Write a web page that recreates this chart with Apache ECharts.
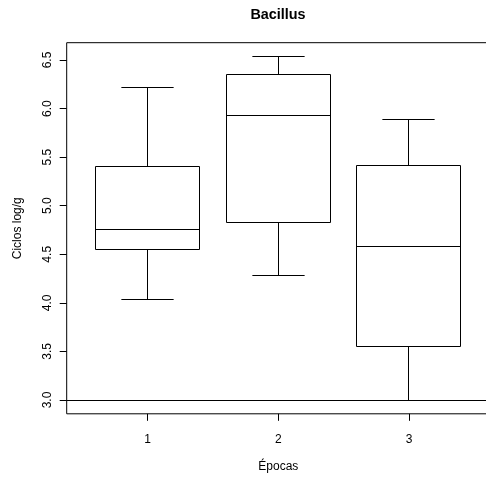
<!DOCTYPE html>
<html>
<head>
<meta charset="utf-8">
<title>Bacillus</title>
<script src="https://cdn.jsdelivr.net/npm/echarts@6/dist/echarts.min.js"></script>
<style>
  html, body { margin: 0; padding: 0; background: #fff; }
  #chart { width: 486px; height: 481px; }
</style>
</head>
<body>
<div id="chart"></div>
<script>
// Época of sampling and the five-number summary of each box (log cycles per gram)
const epocas        = [1, 2, 3];
const whiskerLow    = [4.03, 4.28, 3.00];
const quartileLow   = [4.55, 4.83, 3.55];
const medians       = [4.75, 5.93, 4.58];
const quartileHigh  = [5.40, 6.35, 5.41];
const whiskerHigh   = [6.22, 6.54, 5.89];

// Horizontal reference level
const referenceLevel = 3.0;

// Tick positions
const xTicks = [1, 2, 3];
const yTicks = [3.0, 3.5, 4.0, 4.5, 5.0, 5.5, 6.0, 6.5];

const FONT = '"Liberation Sans", Arial, Helvetica, sans-serif';
const INK = '#000';

const boxData = epocas.map((e, i) => [
  e, whiskerLow[i], quartileLow[i], medians[i], quartileHigh[i], whiskerHigh[i]
]);

// Pixel-snap a coordinate for crisp 1px strokes
const snap = v => Math.round(v - 0.5) + 0.5;

function renderBox(params, api) {
  const x = api.value(0);
  const lo = api.coord([x, api.value(1)]);
  const q1 = api.coord([x, api.value(2)]);
  const md = api.coord([x, api.value(3)]);
  const q3 = api.coord([x, api.value(4)]);
  const hi = api.coord([x, api.value(5)]);
  const boxHalf = api.size([0.8, 0])[0] / 2;
  const capHalf = api.size([0.4, 0])[0] / 2;
  const cx = snap(md[0]);
  const style = { stroke: INK, lineWidth: 1, fill: null };
  const line = (x1, y1, x2, y2) => ({
    type: 'line', shape: { x1, y1, x2, y2 }, style
  });
  const L = snap(cx - boxHalf), R = snap(cx + boxHalf);
  const yq1 = snap(q1[1]), yq3 = snap(q3[1]), ymd = snap(md[1]);
  const ylo = snap(lo[1]), yhi = snap(hi[1]);
  return {
    type: 'group',
    children: [
      // whiskers and caps
      line(cx, yq3, cx, yhi),
      line(cx - capHalf, yhi, cx + capHalf, yhi),
      line(cx, yq1, cx, ylo),
      line(cx - capHalf, ylo, cx + capHalf, ylo),
      // box
      { type: 'rect', shape: { x: L, y: yq3, width: R - L, height: yq1 - yq3 },
        style: { stroke: INK, lineWidth: 1, fill: null } },
      // median
      line(L, ymd, R, ymd)
    ]
  };
}

const chart = echarts.init(document.getElementById('chart'), null, { renderer: 'canvas' });

chart.setOption({
  animation: false,
  backgroundColor: '#fff',
  textStyle: { fontFamily: FONT, color: INK },
  graphic: [{
    type: 'text',
    x: 278, y: 15,
    style: {
      text: 'Bacillus',
      font: 'bold 14.4px ' + FONT,
      fill: INK,
      align: 'center',
      verticalAlign: 'middle'
    }
  }],
  grid: {
    left: 66.7,
    top: 42.7,
    width: 423.3,
    height: 371.1,
    show: true,
    borderColor: INK,
    borderWidth: 1,
    backgroundColor: 'transparent',
    containLabel: false,
    outerBoundsMode: 'none'
  },
  xAxis: {
    type: 'value',
    min: 0.38,
    max: 3.62,
    splitLine: { show: false },
    axisLine: { show: false },
    axisTick: {
      show: true, inside: false, length: 7,
      customValues: xTicks,
      lineStyle: { color: INK, width: 1 }
    },
    axisLabel: {
      show: true,
      customValues: xTicks,
      margin: 20,
      fontSize: 12,
      fontFamily: FONT,
      color: INK,
      formatter: v => String(v)
    },
    name: 'Épocas',
    nameLocation: 'middle',
    nameGap: 47,
    nameTextStyle: { fontSize: 12, fontFamily: FONT, color: INK }
  },
  yAxis: {
    type: 'value',
    min: 2.858,
    max: 6.678,
    splitLine: { show: false },
    axisLine: { show: false },
    axisTick: {
      show: true, inside: false, length: 7,
      customValues: yTicks,
      lineStyle: { color: INK, width: 1 }
    },
    axisLabel: {
      show: true,
      customValues: yTicks,
      rotate: 90,
      margin: 13,
      fontSize: 12,
      fontFamily: FONT,
      color: INK,
      formatter: v => v.toFixed(1)
    },
    name: 'Ciclos log/g',
    nameLocation: 'middle',
    nameGap: 43,
    nameRotate: 90,
    nameTextStyle: { fontSize: 12, fontFamily: FONT, color: INK }
  },
  series: [{
    type: 'custom',
    renderItem: renderBox,
    data: boxData,
    encode: { x: 0, y: [1, 2, 3, 4, 5] },
    silent: true,
    z: 3,
    markLine: {
      silent: true,
      symbol: 'none',
      animation: false,
      label: { show: false },
      lineStyle: { color: INK, width: 1, type: 'solid' },
      data: [{ yAxis: referenceLevel }]
    }
  }]
});
</script>
</body>
</html>
